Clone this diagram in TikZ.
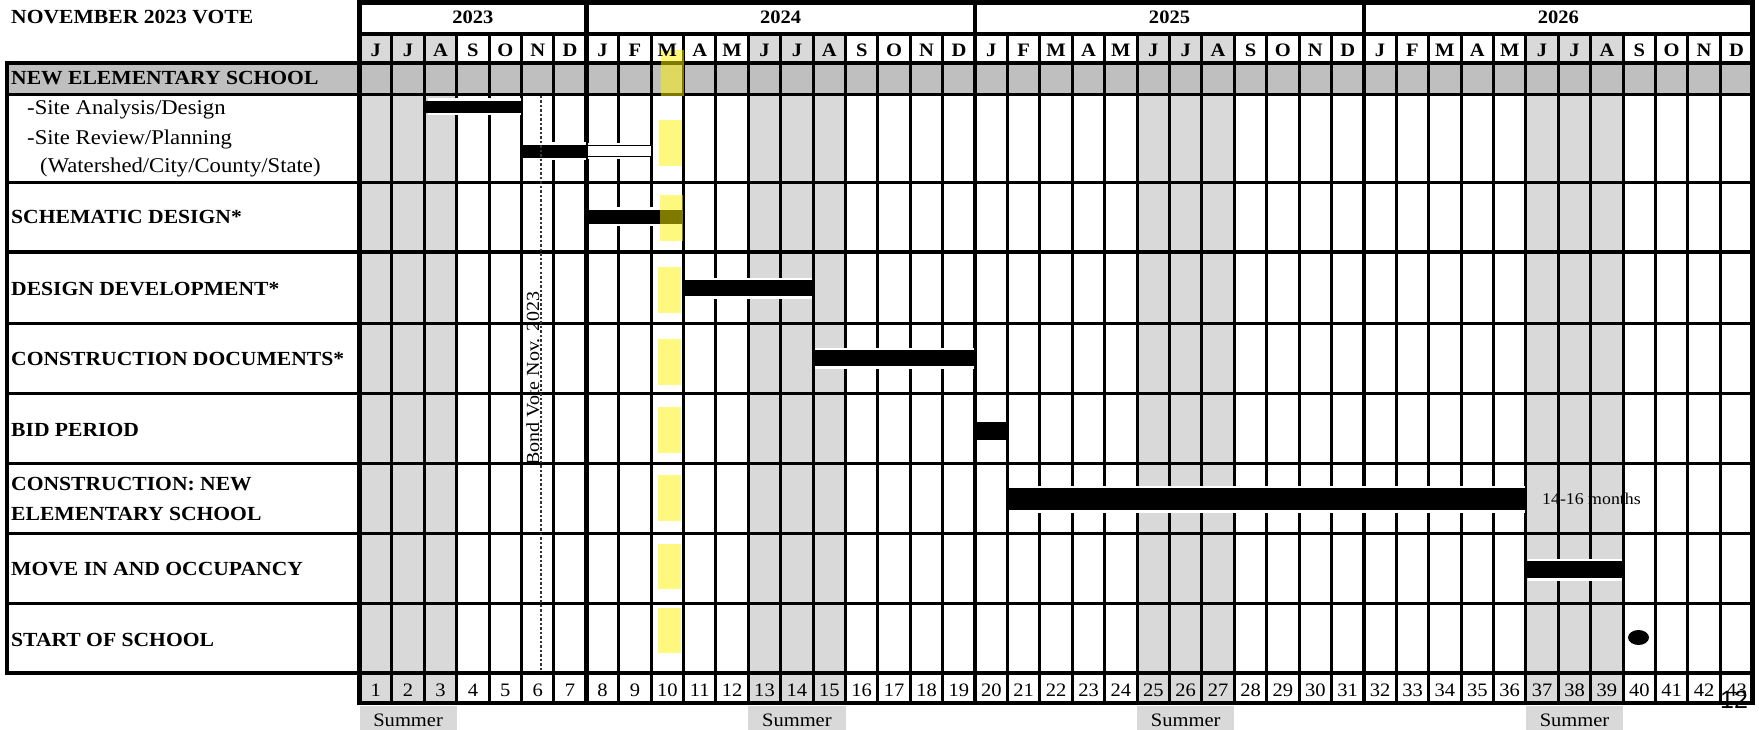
\documentclass[tikz,border=0pt]{standalone}
\usepackage{fontspec}
\setmainfont{Liberation Serif}[FakeStretch=1.08]
\setsansfont{Liberation Sans}
\definecolor{hdrgray}{HTML}{BFBFBF}
\definecolor{sumgray}{HTML}{D9D9D9}
\begin{document}
\begin{tikzpicture}[x=1pt,y=-1pt,
  lbl/.style={anchor=base west, inner sep=0pt, font=\fontsize{20}{24}\selectfont\bfseries},
  sub/.style={anchor=base west, inner sep=0pt, font=\fontsize{21}{24}\selectfont},
  yr/.style={anchor=base, inner sep=0pt, font=\fontsize{19}{24}\selectfont\bfseries},
  mon/.style={anchor=base, inner sep=0pt, font=\fontsize{19}{24}\selectfont\bfseries},
  num/.style={anchor=base, inner sep=0pt, font=\fontsize{19}{24}\selectfont},
  gridline/.style={line width=3pt},
  yrline/.style={line width=4.5pt},
  hl/.style={fill=yellow, fill opacity=0.5, draw=none},
]
\useasboundingbox (0,0) rectangle (1759,730);
% ---------- fills
\fill[hdrgray] (7,63) rectangle (1753,95);
\foreach \c in {0,12,24,36} {
  \fill[sumgray] ({359.5+32.4*\c},34) rectangle ({359.5+32.4*(\c+3)},63);
  \fill[sumgray] ({359.5+32.4*\c},95) rectangle ({359.5+32.4*(\c+3)},703);
  \fill[sumgray] ({359.5+32.4*\c},706) rectangle ({359.5+32.4*(\c+3)},730);
}
% ---------- grid
\foreach \i in {1,...,42} \draw[gridline] ({359.5+32.4*\i},34) -- ({359.5+32.4*\i},703);
\foreach \i in {0,7,19,31,43} \draw[yrline] ({359.5+32.4*\i},0.5) -- ({359.5+32.4*\i},705);
\draw[yrline] (357,2.5) -- (1755,2.5);
\draw[yrline] (359.5,34) -- (1753,34);
\draw[yrline] (5,63) -- (1755,63);
\foreach \y in {95,183,252,323,393,463,533,603} \draw[gridline] (7,\y) -- (1753,\y);
\draw[yrline] (5,673) -- (1755,673);
\draw[yrline] (357,703) -- (1755,703);
\draw[yrline] (7,61) -- (7,675);
% ---------- bars
\foreach \xa/\ya/\xb/\yb in {426/101/522/113, 521/145/587/158, 587/210/683/224,
    684/280/813/296, 813/350/975/366, 975/422/1007/440, 1007/488/1526/510, 1526/561/1623/578} {
  \fill[white] (\xa+1.5,\ya-2.5) rectangle (\xb-1.5,\yb+2.5);
  \fill[black] (\xa,\ya) rectangle (\xb,\yb);
}
\fill[white] (588,143.5) rectangle (650,159.5);
\draw[line width=1pt, fill=white] (587,146) rectangle (651,157);
\fill[black] (1638.5,637.5) ellipse [x radius=10.5, y radius=7.5];
% ---------- highlights
\fill[hl] (661,50) rectangle (684,96);
\fill[hl] (659,120) rectangle (682,166);
\fill[hl] (660,195) rectangle (683,241);
\foreach \ya/\yb in {267/313, 339/385, 407/453, 475/521, 544/589, 608/653}
  \fill[hl] (658,\ya) rectangle (681,\yb);
% ---------- bond vote marker
\draw[dash pattern=on 2.5pt off 2pt, line width=1.4pt, black!80] (541,96) -- (541,672);
\node[rotate=90, anchor=base west, inner sep=0pt, font=\fontsize{18.5}{20}\selectfont] (vote) at (539,466) {Bond Vote Nov. 2023};
% ---------- header texts
\node[lbl] (title) at (11,24) {NOVEMBER 2023 VOTE};
\node[yr] (y23) at ({359.5+32.4*3.5},24) {2023};
\node[yr] (y24) at ({359.5+32.4*13},24) {2024};
\node[yr] (y25) at ({359.5+32.4*25},24) {2025};
\node[yr] (y26) at ({359.5+32.4*37},24) {2026};
\foreach \m [count=\i] in {J,J,A,S,O,N,D,J,F,M,A,M,J,J,A,S,O,N,D,J,F,M,A,M,J,J,A,S,O,N,D,J,F,M,A,M,J,J,A,S,O,N,D}
  \node[mon] (m\i) at ({359.5+32.4*(\i-0.5)},57) {\m};
\foreach \i in {1,...,43}
  \node[num] (n\i) at ({359.5+32.4*(\i-0.5)},696) {\i};
\foreach \c [count=\k] in {0,12,24,36}
  \node[num] (s\k) at ({359.5+32.4*(\c+1.5)},726) {Summer};
% ---------- row labels
\node[lbl] (nes) at (11,85) {NEW ELEMENTARY SCHOOL};
\node[sub] (sa) at (27,115) {-Site Analysis/Design};
\node[sub] (sr) at (27,145) {-Site Review/Planning};
\node[sub] (ws) at (40,173) {(Watershed/City/County/State)};
\node[lbl] (sd) at (11,224) {SCHEMATIC DESIGN*};
\node[lbl] (dd) at (11,295) {DESIGN DEVELOPMENT*};
\node[lbl] (cd) at (11,365) {CONSTRUCTION DOCUMENTS*};
\node[lbl] (bp) at (11,436) {BID PERIOD};
\node[lbl] (cn1) at (11,490.5) {CONSTRUCTION: NEW};
\node[lbl] (cn2) at (11,520) {ELEMENTARY SCHOOL};
\node[lbl] (mi) at (11,575) {MOVE IN AND OCCUPANCY};
\node[lbl] (ss) at (11,646.5) {START OF SCHOOL};
\node[anchor=base west, inner sep=0pt, font=\fontsize{16.5}{18}\selectfont] (dur) at (1542,504) {14-16 months};
\node[inner sep=0pt, font=\sffamily\fontsize{25}{26}\selectfont] (pg) at (1734,700) {12};
\end{tikzpicture}
\end{document}
